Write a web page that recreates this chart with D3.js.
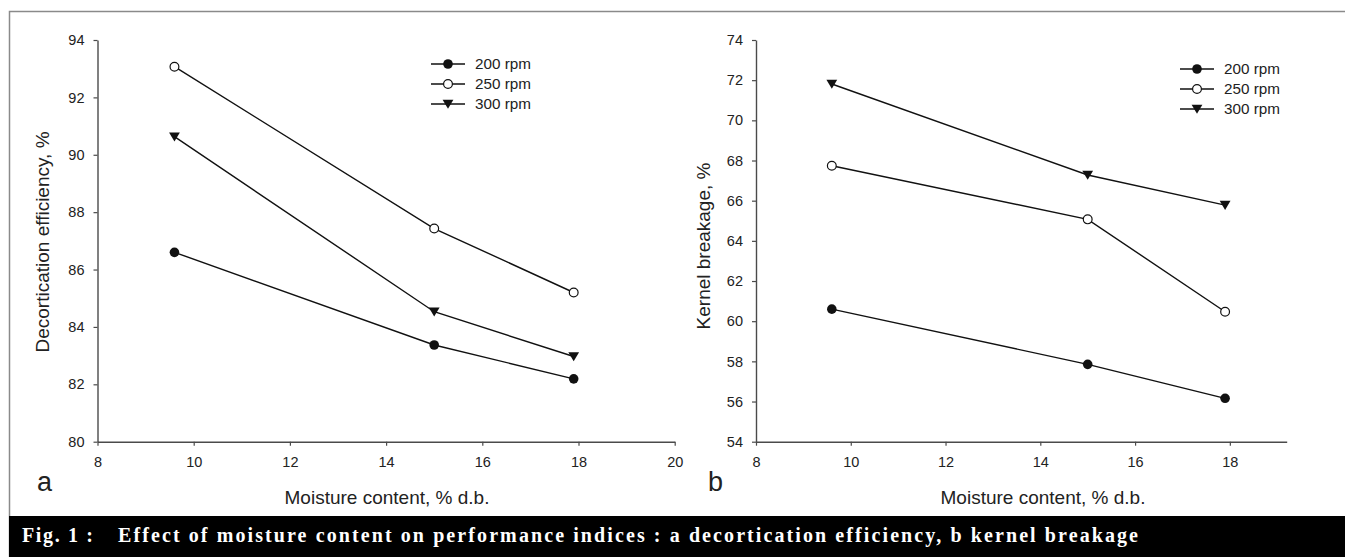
<!DOCTYPE html>
<html><head><meta charset="utf-8">
<script src="https://cdn.jsdelivr.net/npm/d3@7"></script>
<style>body{margin:0;background:#fff}svg{display:block}</style>
</head><body>
<svg id="chart" width="1345" height="557"></svg>
<script>
const moisture = [9.6, 15.0, 17.9];
const seriesNames = ["200 rpm", "250 rpm", "300 rpm"];
const efficiency200 = [86.6, 83.37, 82.19];
const efficiency250 = [93.07, 87.43, 85.2];
const efficiency300 = [90.63, 84.53, 82.97];
const breakage200 = [60.6, 57.85, 56.16];
const breakage250 = [67.74, 65.07, 60.47];
const breakage300 = [71.81, 67.28, 65.78];
const xTicksA = [8, 10, 12, 14, 16, 18, 20];
const yTicksA = [80, 82, 84, 86, 88, 90, 92, 94];
const xTicksB = [8, 10, 12, 14, 16, 18];
const yTicksB = [54, 56, 58, 60, 62, 64, 66, 68, 70, 72, 74];
const captionLead = "Fig. 1 :";
const caption = "Effect of moisture content on performance indices : a decortication efficiency, b kernel breakage";

const svg = d3.select("#chart");
const font = "'Liberation Sans', Arial, sans-serif";

svg.append("path").attr("d", "M9.5,557 L9.5,11.5 L1345,11.5")
  .attr("fill", "none").attr("stroke", "#8a8a8a").attr("stroke-width", 1.5);

function panel(cfg) {
  const x = d3.scaleLinear().domain(cfg.xDomain).range(cfg.xRange);
  const y = d3.scaleLinear().domain(cfg.yDomain).range([441.7, 40]);
  const g = svg.append("g");
  const axisColor = "#4a4a4a";
  const xa = g.append("g").attr("transform", `translate(0,${y(cfg.yDomain[0])})`)
    .call(d3.axisBottom(x).tickValues(cfg.xTicks).tickSize(4).tickSizeOuter(0).tickPadding(11).tickFormat(d3.format("d")));
  const ya = g.append("g").attr("transform", `translate(${x(cfg.xDomain[0])},0)`)
    .call(d3.axisLeft(y).tickValues(cfg.yTicks).tickSize(4).tickSizeOuter(0).tickPadding(9).tickFormat(d3.format("d")));
  [xa, ya].forEach(a => {
    a.attr("font-size", 14.5).attr("font-family", font);
    a.select(".domain").attr("stroke", axisColor).attr("stroke-width", 1.4);
    a.selectAll(".tick line").attr("stroke", axisColor).attr("stroke-width", 1.2);
    a.selectAll("text").attr("fill", "#222");
  });
  g.append("text").attr("x", cfg.xTitleX).attr("y", 504).attr("text-anchor", "middle")
    .style("font-family", font).style("font-size", "19px").attr("fill", "#222").text("Moisture content, % d.b.");
  g.append("text").attr("transform", `translate(${cfg.yTitleX},${cfg.yTitleY}) rotate(-90)`)
    .attr("text-anchor", "middle").style("font-family", font).style("font-size", "19px").attr("fill", "#222").text(cfg.yTitle);
  g.append("text").attr("x", cfg.letterX).attr("y", 491).style("font-family", font).style("font-size", "27px")
    .attr("fill", "#222").text(cfg.letter);

  const line = d3.line().x((d, i) => x(moisture[i])).y(d => y(d));
  cfg.series.forEach((vals, si) => {
    g.append("path").attr("d", line(vals)).attr("fill", "none").attr("stroke", "#111").attr("stroke-width", 1.4);
    vals.forEach((v, i) => marker(g, si, x(moisture[i]), y(v)));
  });
  seriesNames.forEach((name, si) => {
    const ly = cfg.legY + si * 20;
    g.append("line").attr("x1", cfg.legX).attr("x2", cfg.legX + 34).attr("y1", ly).attr("y2", ly)
      .attr("stroke", "#111").attr("stroke-width", 1.4);
    marker(g, si, cfg.legX + 17, ly);
    g.append("text").attr("x", cfg.legX + 44).attr("y", ly + 5).style("font-family", font).style("font-size", "14.5px")
      .attr("textLength", 56).attr("lengthAdjust", "spacingAndGlyphs")
      .attr("fill", "#222").text(name);
  });
}

function marker(g, si, cx, cy) {
  if (si === 0) {
    g.append("circle").attr("cx", cx).attr("cy", cy).attr("r", 4.8).attr("fill", "#111");
  } else if (si === 1) {
    g.append("circle").attr("cx", cx).attr("cy", cy).attr("r", 4.4).attr("fill", "#fff").attr("stroke", "#111").attr("stroke-width", 1.2);
  } else {
    g.append("path").attr("d", `M${cx - 5.4},${cy - 4.3} L${cx + 5.4},${cy - 4.3} L${cx},${cy + 4.8} Z`).attr("fill", "#111");
  }
}

panel({
  xDomain: [8, 20], xRange: [97.5, 674.7], yDomain: [80, 94],
  xTicks: xTicksA, yTicks: yTicksA,
  series: [efficiency200, efficiency250, efficiency300],
  xTitleX: 387, yTitleX: 48.5, yTitleY: 242, yTitle: "Decortication efficiency, %",
  letter: "a", letterX: 37, legX: 431, legY: 64
});
panel({
  xDomain: [8, 19.2], xRange: [756, 1286.7], yDomain: [54, 74],
  xTicks: xTicksB, yTicks: yTicksB,
  series: [breakage200, breakage250, breakage300],
  xTitleX: 1043, yTitleX: 710, yTitleY: 246, yTitle: "Kernel breakage, %",
  letter: "b", letterX: 708, legX: 1180, legY: 69
});

const serif = "'Liberation Serif', 'Times New Roman', serif";
svg.append("rect").attr("x", 9).attr("y", 516).attr("width", 1336).attr("height", 41).attr("fill", "#000");
svg.append("text").attr("x", 22).attr("y", 542).attr("fill", "#fff")
  .style("font-family", serif).style("font-weight", "bold").style("font-size", "20px")
  .attr("textLength", 71).attr("lengthAdjust", "spacing").text(captionLead);
svg.append("text").attr("x", 118).attr("y", 542).attr("fill", "#fff")
  .style("font-family", serif).style("font-weight", "bold").style("font-size", "20px")
  .attr("textLength", 1020).attr("lengthAdjust", "spacing").text(caption);
</script>
</body></html>
